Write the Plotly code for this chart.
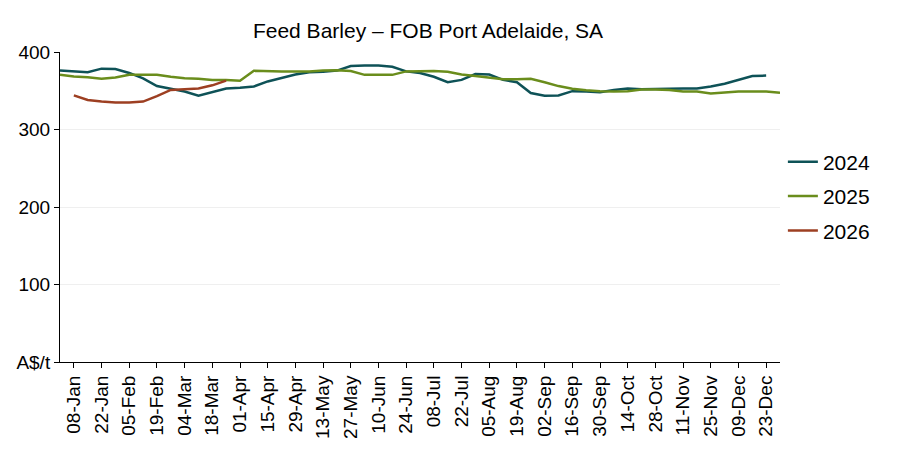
import pandas as pd
import plotly.graph_objects as go

# weekly labels (day-month), tick every second week
weeks = [d.strftime("%d-%b") for d in pd.date_range("2024-01-01", periods=53, freq="7D")]
tick_weeks = weeks[1::2]

price_2024 = [376, 375, 374, 378.5, 378, 373, 366, 356, 353, 349, 343.5, 348, 353,
              354, 355.5, 362, 367, 371, 374, 374.5, 376, 382, 382.6, 382.6, 381, 375,
              373, 368, 361, 364, 371.5, 371, 364, 361, 347, 343.5, 344, 349.5, 349,
              348, 351, 353, 352, 352.5, 353, 353, 353, 355.5, 359, 364, 369, 369.6, None]
price_2025 = [370.5, 368.5, 367.5, 365.5, 367, 370.5, 370.5, 370.5, 368, 366, 365.5, 364,
              364, 363, 375.7, 375, 375, 375, 375, 376, 376.5, 375.5, 370.5, 370.5, 370.5,
              375, 375.5, 375.5, 374.5, 371, 369, 367, 365, 365, 365.5, 361, 356, 352.5,
              350.5, 349.5, 349, 349.5, 351.5, 351.5, 351, 349, 349, 346.5, 348, 349, 349,
              349, 347.5]
price_2026 = [None, 344, 338, 336, 335, 335, 336, 343, 351, 352, 353, 357, 363]

series = [("2024", price_2024, "#0e5257"),
          ("2025", price_2025, "#6a8d1c"),
          ("2026", price_2026, "#9d3f22")]

fig = go.Figure()
for name, vals, col in series:
    fig.add_trace(go.Scatter(x=weeks[:len(vals)], y=vals, name=name, mode="lines",
                             legendgroup=name,
                             line=dict(color=col, width=2.5), connectgaps=False))

# page body adds ~8px offset, so margins are trimmed to land the plot at 60..780 / 52..362
fig.update_layout(
    width=900, height=450,
    margin=dict(l=52, r=128, t=44, b=96, autoexpand=False),
    paper_bgcolor="white", plot_bgcolor="white",
    font=dict(family="Liberation Sans, Arial, sans-serif", color="black", size=19),
    title=dict(text="Feed Barley \u2013 FOB Port Adelaide, SA", x=0.4667, xanchor="center",
               y=0.95, yanchor="middle", font=dict(size=21)),
    legend=dict(x=1.004, xanchor="left", y=0.535, yanchor="middle",
                font=dict(size=21), tracegroupgap=4),
    showlegend=True,
)

fig.update_xaxes(type="category", categoryorder="array", categoryarray=weeks,
                 range=[0, 52], tickvals=tick_weeks, ticktext=tick_weeks,
                 tickangle=-90, ticks="outside", ticklen=5, tickcolor="black",
                 showline=True, linecolor="black", linewidth=1, automargin=False,
                 showgrid=False, zeroline=False, tickfont=dict(size=19))
fig.update_yaxes(range=[0, 400], tickvals=[0, 100, 200, 300, 400],
                 ticktext=["A$/t", "100", "200", "300", "400"],
                 ticks="outside", ticklen=5, tickcolor="black", automargin=False,
                 showline=True, linecolor="black", linewidth=1,
                 showgrid=True, gridcolor="#efefef", zeroline=False,
                 tickfont=dict(size=19))

fig.write_html("out.html")
